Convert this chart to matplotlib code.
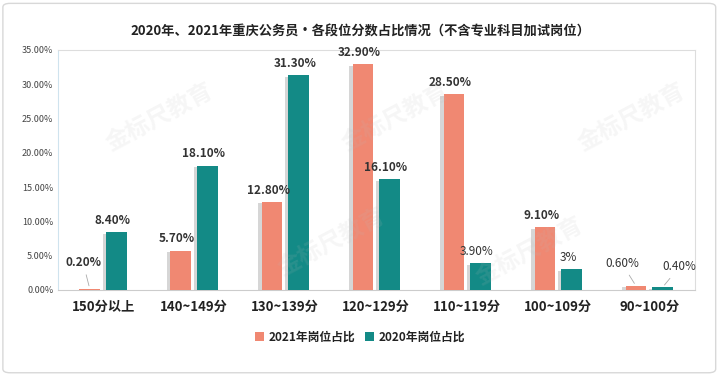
import matplotlib
matplotlib.use("Agg")
from matplotlib import pyplot as plt
from matplotlib.patches import FancyBboxPatch
import matplotlib.patheffects as pe
import numpy as np

plt.rcParams['font.family'] = ['Noto Sans CJK SC', 'DejaVu Sans']

categories = ['150分以上', '140~149分', '130~139分', '120~129分',
              '110~119分', '100~109分', '90~100分']
share_2021 = [0.20, 5.70, 12.80, 32.90, 28.50, 9.10, 0.60]
share_2020 = [8.40, 18.10, 31.30, 16.10, 3.90, 3.0, 0.40]
labels_2021 = ['0.20%', '5.70%', '12.80%', '32.90%', '28.50%', '9.10%', '0.60%']
labels_2020 = ['8.40%', '18.10%', '31.30%', '16.10%', '3.90%', '3%', '0.40%']
yticks = [0, 5, 10, 15, 20, 25, 30, 35]

c21 = '#F08872'
c20 = '#138A86'

fig = plt.figure(figsize=(7.2, 3.75), dpi=100)
fig.patches.append(FancyBboxPatch((0.004, 0.006), 0.99, 0.985, boxstyle='round,pad=0,rounding_size=0.01',
                                  transform=fig.transFigure, fill=False, ec='#d8d8d8', lw=1))
ax = fig.add_axes([0.08, 0.227, 0.885, 0.64])

x = np.arange(len(categories))
w = 0.225
gap = 0.035
shadow = [pe.SimplePatchShadow(offset=(-2.5, -1), shadow_rgbFace='#999999', alpha=0.4), pe.Normal()]
b1 = ax.bar(x - w / 2 - gap, share_2021, w, color=c21, label='2021年岗位占比', zorder=3)
b2 = ax.bar(x + w / 2 + gap, share_2020, w, color=c20, label='2020年岗位占比', zorder=3)
for b in list(b1) + list(b2):
    b.set_path_effects(shadow)

ax.set_xlim(-0.5, len(categories) - 0.5)
ax.set_ylim(0, 35)
ax.set_yticks(yticks)
ax.set_yticklabels(['%.2f%%' % v for v in yticks], fontsize=6.5, color='#444444')
ax.set_xticks(x)
ax.set_xticklabels(categories, fontsize=9.5, fontweight='bold', color='#222222')
ax.tick_params(axis='both', length=0, pad=7)
ax.tick_params(axis='y', pad=3)
for s in ['top', 'right', 'bottom']:
    ax.spines[s].set_color('#dddddd')
ax.spines['left'].set_color('#cfe3ee')
ax.spines['bottom'].set_color('#cccccc')

normal_w = {4, 5, 6}
for i in range(len(categories)):
    # 2021 labels
    if i == 0:
        ax.annotate(labels_2021[i], xy=(x[i] - w / 2 - gap, share_2021[i]), xytext=(x[i] - 0.22, 3.0),
                    ha='center', va='bottom', fontsize=8.5, fontweight='bold', color='#333333',
                    arrowprops=dict(arrowstyle='-', color='#aaaaaa', lw=0.6))
    elif i == 6:
        ax.annotate(labels_2021[i], xy=(x[i] - w / 2 - gap, share_2021[i]), xytext=(x[i] - 0.3, 2.9),
                    ha='center', va='bottom', fontsize=8.5, color='#333333',
                    arrowprops=dict(arrowstyle='-', color='#aaaaaa', lw=0.6))
    else:
        ax.text(x[i] - w / 2 - gap - 0.04, share_2021[i] + 0.8, labels_2021[i], ha='center', va='bottom',
                fontsize=8.5, fontweight='bold', color='#333333')
    # 2020 labels
    if i == 6:
        ax.annotate(labels_2020[i], xy=(x[i] + w / 2 + gap, share_2020[i]), xytext=(x[i] + 0.33, 2.4),
                    ha='center', va='bottom', fontsize=8.5, color='#333333',
                    arrowprops=dict(arrowstyle='-', color='#aaaaaa', lw=0.6))
    else:
        fw2 = 'normal' if i in normal_w else 'bold'
        ax.text(x[i] + w / 2 + gap - 0.04, share_2020[i] + 0.8, labels_2020[i], ha='center', va='bottom',
                fontsize=8.5, fontweight=fw2, color='#333333')

# watermarks
for wx, wy in [(0.16, 0.72), (0.53, 0.72), (0.90, 0.72), (0.43, 0.20), (0.74, 0.16)]:
    ax.text(wx, wy, '金标尺教育', transform=ax.transAxes, fontsize=17, fontweight='bold',
            color='#bbbbbb', alpha=0.13, rotation=28, ha='center', va='center', zorder=5)

fig.text(0.5, 0.915, '2020年、2021年重庆公务员•各段位分数占比情况（不含专业科目加试岗位）',
         ha='center', va='center', fontsize=9.5, fontweight='bold', color='#222222')

leg = fig.legend(handles=[b1, b2], loc='center', bbox_to_anchor=(0.5, 0.1), ncol=2, frameon=False,
                 fontsize=8.5, handlelength=0.8, handleheight=0.8, handletextpad=0.4, columnspacing=0.8)
for t in leg.get_texts():
    t.set_fontweight('bold')
    t.set_color('#222222')
for h in leg.legend_handles:
    h.set_path_effects([])

fig.savefig('out.png', dpi=100)
